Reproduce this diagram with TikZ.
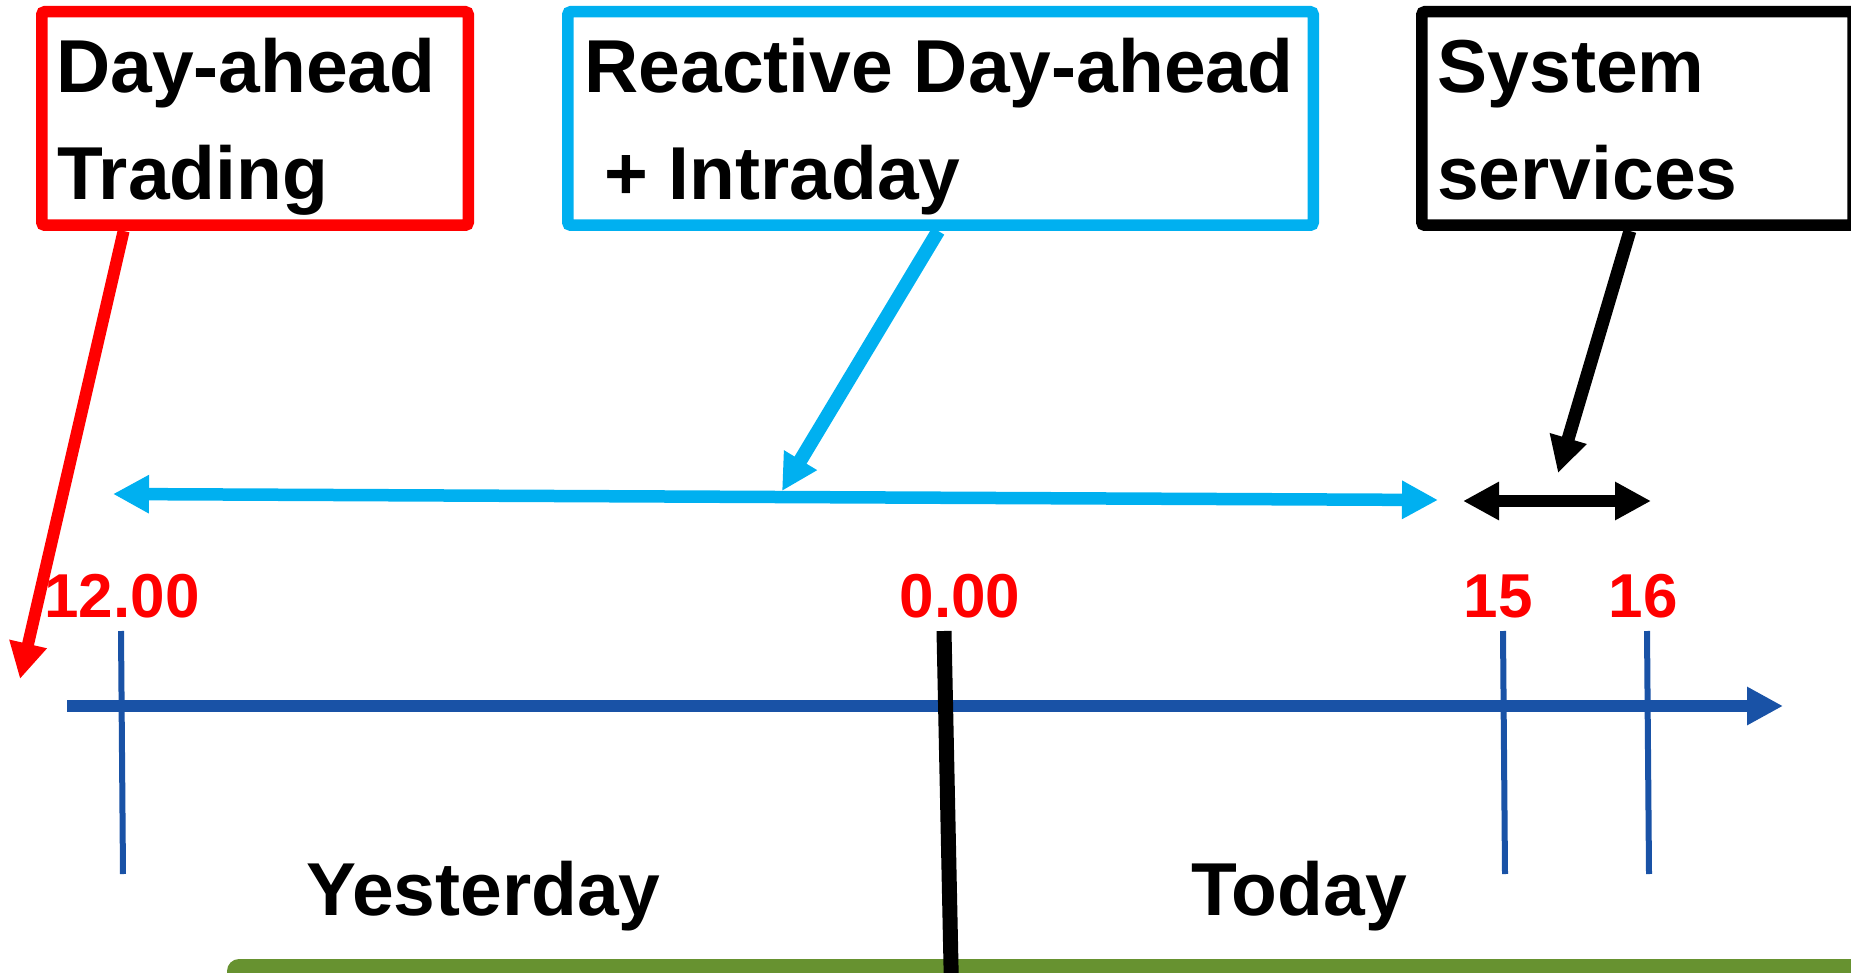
\documentclass[tikz,border=0pt]{standalone}
\usepackage{fontspec}
\setmainfont{Liberation Sans}
\usetikzlibrary{arrows.meta,calc}
\definecolor{xred}{RGB}{255,0,0}
\definecolor{xcyan}{RGB}{0,176,240}
\definecolor{xaxis}{RGB}{25,82,166}
\definecolor{xgreen}{RGB}{103,146,48}
\begin{document}
\begin{tikzpicture}[x=1pt,y=-1pt,
  box/.style={draw, line width=11.5pt, rounded corners=3pt, inner sep=0pt},
  boxtext/.style={anchor=base west, inner sep=0pt, font=\fontsize{75}{90}\selectfont\bfseries},
  daytext/.style={anchor=base west, inner sep=0pt, font=\fontsize{75}{90}\selectfont\bfseries},
  lab/.style={anchor=base, inner sep=0pt, text=xred, font=\fontsize{62}{72}\selectfont\bfseries},
  conn/.style={line width=12.5pt, -{Triangle[length=36pt,width=36pt]}},
  span/.style={line width=12.5pt, {Triangle[length=36pt,width=36pt]}-{Triangle[length=36pt,width=36pt]}},
  tickline/.style={draw=xaxis, line width=6pt},
]
\useasboundingbox (0,0) rectangle (1851,973);

% green bar at the bottom
\fill[xgreen, rounded corners=12pt] (227,959) rectangle (1880,1000);

% boxes
\node[box, draw=xred, minimum width=426.5pt, minimum height=213.5pt] (dat) at (255,118.5) {};
\node[box, draw=xcyan, minimum width=745.5pt, minimum height=213.5pt] (rdi) at (940.5,118.5) {};
\node[box, draw=black, minimum width=431.25pt, minimum height=213.5pt] (sys) at (1637.4,118.5) {};

\node[boxtext] (datA) at (56,93) {Day-ahead};
\node[boxtext] (datB) at (57,200) {Trading};
\node[boxtext] (rdiA) at (584.5,93) {Reactive Day-ahead};
\node[boxtext] (rdiB) at (604,200) {+ Intraday};
\node[boxtext] (sysA) at (1437.5,93) {System};
\node[boxtext] (sysB) at (1437,200) {services};

% tips
\coordinate (redtip) at (20,679);
\coordinate (cyantip) at (782,491);
\coordinate (blacktip) at (1558,473);

\draw[conn, xred, line width=12pt] ($(dat.south west)!0.2!(dat.south east)$) -- (redtip);
\draw[conn, xcyan, line width=14pt] ($(rdi.south west)!0.497!(rdi.south east)$) -- (cyantip);
\draw[conn, black, line width=13pt] ($(sys.south west)!0.483!(sys.south east)$) -- (blacktip);

% spans
\coordinate (cyL) at (113,494);
\coordinate (cyR) at (1438,500);
\draw[span, xcyan] (cyL) -- (cyR);
\coordinate (bkL) at (1463,501);
\coordinate (bkR) at (1651,501);
\draw[span, black] (bkL) -- (bkR);

% labels
\node[lab] (l12) at (122,617) {12.00};
\node[lab] (l0) at (960,617) {0.00};
\node[lab] (l15) at (1498,617) {15};
\node[lab] (l16) at (1643,617) {16};

% ticks
\coordinate (t12a) at (121,631); \coordinate (t12b) at (123,874);
\coordinate (t15a) at (1503,631); \coordinate (t15b) at (1505,874);
\coordinate (t16a) at (1647,631); \coordinate (t16b) at (1649,874);
\draw[tickline] (t12a) -- (t12b);
\draw[tickline] (t15a) -- (t15b);
\draw[tickline] (t16a) -- (t16b);

% axis
\coordinate (axL) at (67,706);
\coordinate (axR) at (1783,706);
\draw[conn, xaxis] (axL) -- (axR);

% midnight line
\coordinate (midA) at (944,631);
\coordinate (midB) at (951.5,990);
\draw[black, line width=15pt] (midA) -- (midB);

% day labels
\node[daytext] (yest) at (306,915) {Yesterday};
\node[daytext] (today) at (1191.5,915) {Today};
\end{tikzpicture}
\end{document}
